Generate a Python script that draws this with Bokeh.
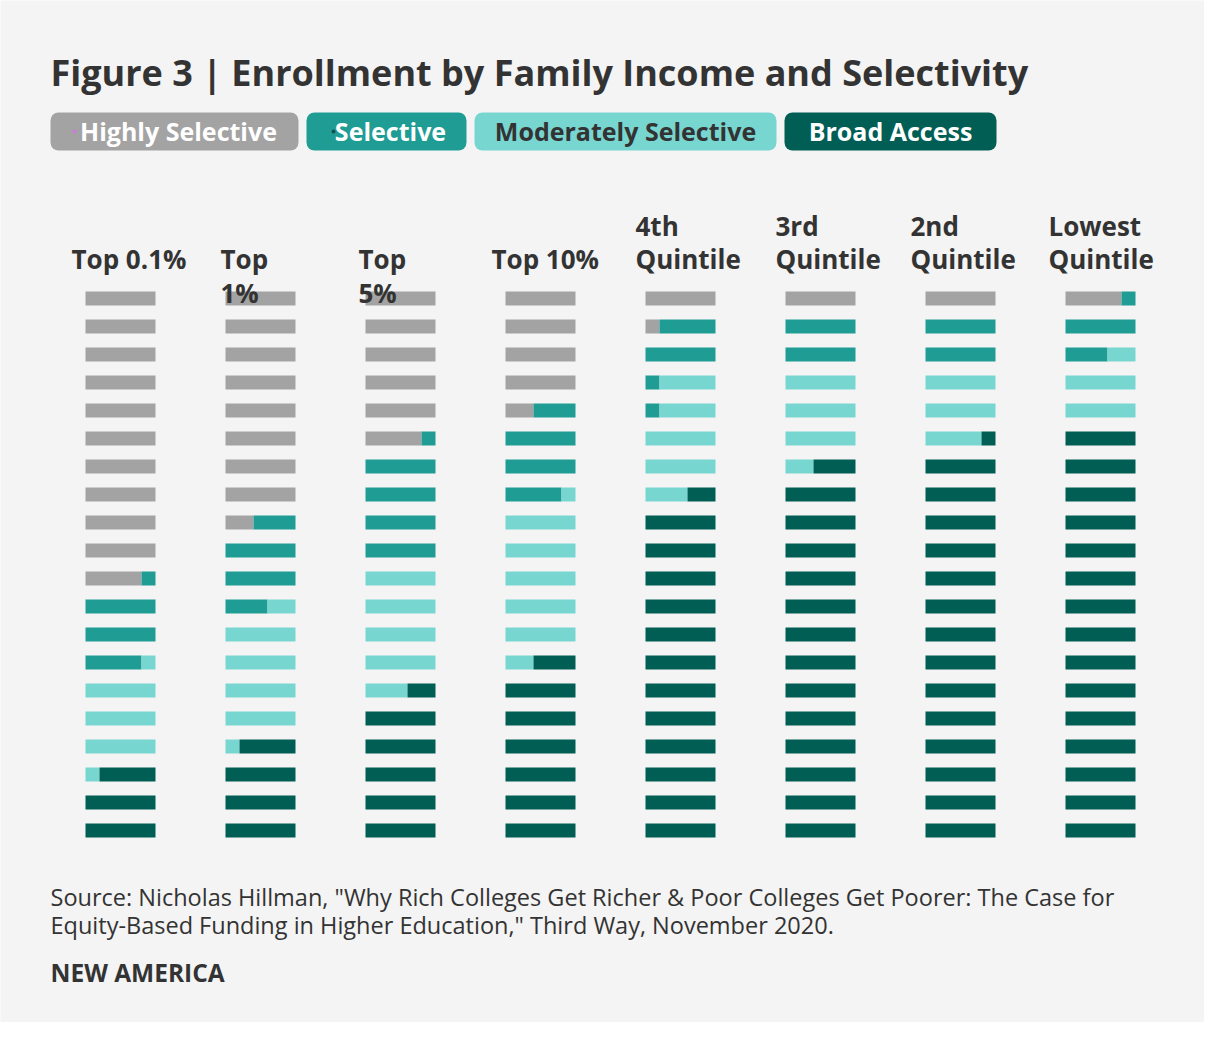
from bokeh.plotting import figure
from bokeh.models import Range1d, ColumnDataSource
from bokeh.core.properties import value
from bokeh.embed import file_html
from bokeh.resources import INLINE

# ---------------- data ----------------
categories = ["Highly Selective", "Selective", "Moderately Selective", "Broad Access"]
colors = ["#a3a3a3", "#1f9c93", "#78d6d1", "#005e55"]
legend_text_colors = ["#ffffff", "#ffffff", "#333333", "#ffffff"]

income_groups = ["Top 0.1%", "Top 1%", "Top 5%", "Top 10%",
                 "4th Quintile", "3rd Quintile", "2nd Quintile", "Lowest Quintile"]

# enrollment shares (%) in drawing order, as (category index, percent) runs
top_01 = [(0, 54), (1, 15), (2, 17), (3, 14)]
top_1 = [(0, 42), (1, 16), (2, 23), (3, 19)]
top_5 = [(0, 29), (1, 21), (2, 23), (3, 27)]
top_10 = [(0, 22), (1, 17), (2, 28), (3, 33)]
quint_4 = [(0, 6), (1, 10), (2, 4), (1, 1), (2, 17), (3, 62)]
quint_3 = [(0, 5), (1, 10), (2, 17), (3, 68)]
quint_2 = [(0, 5), (1, 10), (2, 14), (3, 71)]
quint_low = [(0, 4), (1, 9), (2, 12), (3, 75)]
runs = [top_01, top_1, top_5, top_10, quint_4, quint_3, quint_2, quint_low]

UNIT = 5  # each bar stands for 5 %

title = "Figure 3 | Enrollment by Family Income and Selectivity"
source_lines = ['Source: Nicholas Hillman, "Why Rich Colleges Get Richer & Poor Colleges Get Poorer: The Case for',
                'Equity-Based Funding in Higher Education," Third Way, November 2020.']
brand = "NEW AMERICA"

# ---------------- layout ----------------
BG = "#f4f4f4"
DARK = "#333333"
FONT = value("Open Sans")
K = 0.40  # baseline correction factor (fraction of font size)

p = figure(width=1204, height=1022, x_range=Range1d(0, 1204), y_range=Range1d(1022, 0),
           output_backend="svg", toolbar_location=None, min_border=0,
           x_axis_type=None, y_axis_type=None)
p.outline_line_color = None
p.background_fill_color = BG
p.border_fill_color = BG


def txt(xs, ys, texts, size, bold=False, color=DARK, align="left"):
    p.text(x=xs, y=[yy - K * size for yy in ys], text=texts, text_font=FONT,
           text_font_style="bold" if bold else "normal", text_font_size=f"{size}px",
           text_color=color, text_baseline="alphabetic", text_align=align)


# waffle bars
col_x0, col_step, bar_w = 85, 140, 70
row_y0, row_step, bar_h = 291, 28, 14
L, R, T, B, C = [], [], [], [], []
for i, col in enumerate(runs):
    cum = 0
    x0 = col_x0 + i * col_step
    for cat, pct in col:
        s, e = cum, cum + pct
        r = s // UNIT
        while r * UNIT < e:
            a = max(s, r * UNIT)
            b = min(e, (r + 1) * UNIT)
            if b > a:
                L.append(x0 + (a - r * UNIT) / UNIT * bar_w)
                R.append(x0 + (b - r * UNIT) / UNIT * bar_w)
                T.append(row_y0 + r * row_step)
                B.append(row_y0 + r * row_step + bar_h)
                C.append(colors[cat])
            r += 1
        cum = e
p.quad(left="left", right="right", top="top", bottom="bottom", fill_color="color",
       line_color=None, source=ColumnDataSource(dict(left=L, right=R, top=T, bottom=B, color=C)))

# title
txt([50], [86], [title], 36, bold=True)

# legend boxes
box_l = [50, 306, 474, 784]
box_r = [298, 466, 776, 996]
p.quad(left=box_l, right=box_r, top=[112] * 4, bottom=[150] * 4, fill_color=colors,
       line_color=None, border_radius=8)
txt([(a + b) / 2 + (4 if k < 2 else 0) for k, (a, b) in enumerate(zip(box_l, box_r))],
    [140] * 4, categories, 25, bold=True, color=legend_text_colors, align="center")
p.scatter(x=[74, 333], y=[131, 131], size=4, fill_color=["#c77dd9", "#12524c"], line_color=None)

# column headers
hdr_x = [71, 220, 358, 491, 635, 775, 910, 1048]
hx, hy, ht = [], [], []
for i, name in enumerate(income_groups):
    words = name.split(" ")
    if name.startswith("Top") and len(name) <= 6:
        lines, ys = words, [269, 303]
    elif name.startswith("Top"):
        lines, ys = [name], [269]
    else:
        lines, ys = words, [236, 269]
    for ln, yy in zip(lines, ys):
        hx.append(hdr_x[i]); hy.append(yy); ht.append(ln)
txt(hx, hy, ht, 26, bold=True)

# source + brand
txt([50, 50], [906, 934], source_lines, 23.5)
txt([50], [982], [brand], 24.5, bold=True)

open("out.html", "w").write(file_html(p, INLINE))
